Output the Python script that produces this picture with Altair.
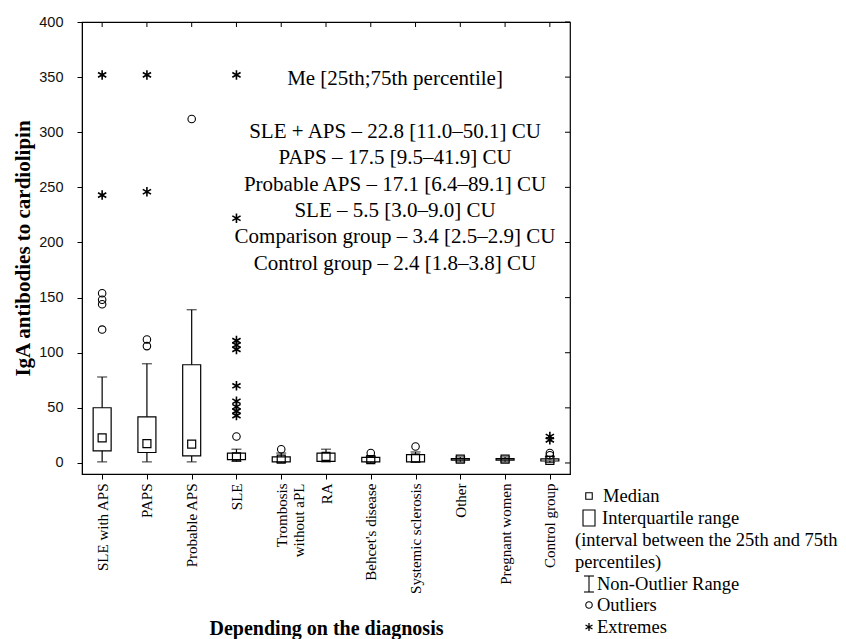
import altair as alt
import pandas as pd

categories = ["SLE with APS", "PAPS", "Probable APS", "SLE", "Trombosis without aPL", "RA",
              "Behcet's disease", "Systemic sclerosis", "Other", "Pregnant women", "Control group"]
q1 = [11.0, 9.5, 6.4, 3.0, 1.0, 1.5, 1.0, 1.0, 2.5, 2.5, 1.8]
median = [22.8, 17.5, 17.1, 5.5, 3.5, 6.0, 3.0, 4.5, 3.5, 3.5, 2.4]
q3 = [50.1, 41.9, 89.1, 9.0, 5.5, 9.0, 5.0, 7.5, 4.0, 4.0, 3.8]
whisker_lo = [1.0, 1.0, 1.0, 1.5, 0.5, 1.0, 0.5, 0.5, 1.0, 1.0, 0.5]
whisker_hi = [78.0, 90.0, 139.0, 12.5, 9.0, 12.5, 6.0, 10.0, 5.5, 5.5, 6.0]

outlier_cat = ["SLE with APS"] * 4 + ["PAPS"] * 2 + ["Probable APS", "SLE", "Trombosis without aPL",
               "Behcet's disease", "Systemic sclerosis", "Control group", "Control group"]
outlier_val = [154, 148, 144, 121, 112, 106, 312, 24, 12.5, 9, 15, 9, 7]

extreme_cat = ["SLE with APS"] * 2 + ["PAPS"] * 2 + ["SLE"] * 10 + ["Control group"] * 2
extreme_val = [352, 243, 352, 246, 352, 222, 111, 107, 103, 70, 56, 51, 47, 43, 24, 21]

y_ticks = [0, 50, 100, 150, 200, 250, 300, 350, 400]

annotation_head = "Me [25th;75th percentile]"
annotation_lines = ["SLE + APS \u2013 22.8 [11.0\u201350.1] CU",
                    "PAPS \u2013 17.5 [9.5\u201341.9] CU",
                    "Probable APS \u2013 17.1 [6.4\u201389.1] CU",
                    "SLE \u2013 5.5 [3.0\u20139.0] CU",
                    "Comparison group \u2013 3.4 [2.5\u20132.9] CU",
                    "Control group \u2013 2.4 [1.8\u20133.8] CU"]

box_df = pd.DataFrame({"cat": categories, "q1": q1, "med": median, "q3": q3,
                       "lo": whisker_lo, "hi": whisker_hi})
out_df = pd.DataFrame({"cat": outlier_cat, "v": outlier_val})
ext_df = pd.DataFrame({"cat": extreme_cat, "v": extreme_val})
tick_df = pd.DataFrame({"v": y_ticks})
one = pd.DataFrame({"a": [0]})

SERIF = "Liberation Serif"
SANS = "Liberation Sans"
ASTERISK = "M0,-1L0,1M-0.87,-0.5L0.87,0.5M-0.87,0.5L0.87,-0.5"

xscale = alt.Scale(type="point", domain=categories, padding=0.45)
yscale = alt.Scale(domain=[-10, 400], nice=False, zero=False)

x_axis = alt.Axis(
    title="Depending on the diagnosis", labelAngle=270, labelFont=SERIF, labelFontSize=15,
    labelColor="black", labelPadding=4, tickSize=5, tickColor="black", domainColor="black",
    labelLineHeight=17, grid=False,
    labelExpr="datum.label == 'Trombosis without aPL' ? ['Trombosis', 'without aPL'] : datum.label",
    titleFont=SERIF, titleFontSize=20, titleFontWeight="bold", titleColor="black",
    titleY=160, titleBaseline="alphabetic")
y_axis = alt.Axis(
    title="IgA antibodies to cardiolipin", values=y_ticks, labelFont=SANS, labelFontSize=14.5,
    labelColor="#111", labelPadding=14, tickSize=5, tickColor="black", domainColor="black",
    grid=False, titleFont=SERIF, titleFontSize=21, titleFontWeight="bold", titleColor="black",
    titleX=-53, titleY=226, titleAngle=270, titleBaseline="alphabetic", titleAlign="center")

base = alt.Chart(box_df)
X = alt.X("cat:N", scale=xscale, axis=x_axis)

whisk = base.mark_rule(color="black", strokeWidth=1.2).encode(
    x=X, y=alt.Y("lo:Q", scale=yscale, axis=y_axis), y2="hi:Q")
box = base.mark_bar(size=18, fill="white", stroke="black", strokeWidth=1.2).encode(
    x=X, y="q1:Q", y2="q3:Q")
cap_lo = base.mark_tick(size=10, thickness=1.2, color="black").encode(x=X, y="lo:Q")
cap_hi = base.mark_tick(size=10, thickness=1.2, color="black").encode(x=X, y="hi:Q")
med = base.mark_point(shape="square", size=64, filled=False, stroke="black", strokeWidth=1.2,
                      opacity=1).encode(x=X, y="med:Q")
outl = alt.Chart(out_df).mark_point(shape="circle", size=56, filled=False, stroke="black",
                                    strokeWidth=1.1, opacity=1).encode(x=X, y="v:Q")
extr = alt.Chart(ext_df).mark_point(shape=ASTERISK, size=90, filled=False, stroke="black",
                                    strokeWidth=1.6, opacity=1).encode(x=X, y="v:Q")

top_ticks = base.mark_rule(color="black", strokeWidth=1).encode(
    x=X, y=alt.value(0), y2=alt.value(5))
right_ticks = alt.Chart(tick_df).mark_rule(color="black", strokeWidth=1).encode(
    y="v:Q", x=alt.value(483), x2=alt.value(488))

annot_head = alt.Chart(one).mark_text(
    text=annotation_head, font=SERIF, fontSize=21, align="center", baseline="top",
    color="black").encode(x=alt.value(313), y=alt.value(46))
annot = alt.Chart(one).mark_text(
    text=annotation_lines, font=SERIF, fontSize=21, align="center", baseline="top",
    lineHeight=26.3, color="black").encode(x=alt.value(313), y=alt.value(99))

# custom legend (pixel positions relative to the plot origin)
def ltext(txt, x, y):
    return alt.Chart(one).mark_text(text=txt, font=SERIF, fontSize=18.5, align="left",
                                    baseline="middle", color="black").encode(
        x=alt.value(x), y=alt.value(y))

leg_med = alt.Chart(one).mark_point(shape="square", size=42, filled=False, stroke="black",
                                    strokeWidth=1.1, opacity=1).encode(
    x=alt.value(507), y=alt.value(474))
leg_box = alt.Chart(one).mark_rect(fill="white", stroke="black", strokeWidth=1.1).encode(
    x=alt.value(501), x2=alt.value(513), y=alt.value(488), y2=alt.value(504))
leg_rng = alt.Chart(one).mark_rule(color="black", strokeWidth=1.1).encode(
    x=alt.value(507), y=alt.value(554), y2=alt.value(570))
leg_rng_t = alt.Chart(one).mark_rule(color="black", strokeWidth=1.1).encode(
    x=alt.value(502), x2=alt.value(512), y=alt.value(554))
leg_rng_b = alt.Chart(one).mark_rule(color="black", strokeWidth=1.1).encode(
    x=alt.value(502), x2=alt.value(512), y=alt.value(570))
leg_out = alt.Chart(one).mark_point(shape="circle", size=42, filled=False, stroke="black",
                                    strokeWidth=1.1, opacity=1).encode(
    x=alt.value(507), y=alt.value(583))
leg_ext = alt.Chart(one).mark_point(shape=ASTERISK, size=64, filled=False, stroke="black",
                                    strokeWidth=1.3, opacity=1).encode(
    x=alt.value(507), y=alt.value(605))

legend_layers = [
    leg_med, ltext("Median", 521, 474),
    leg_box, ltext("Interquartile range", 520, 496),
    ltext("(interval between the 25th and 75th", 493, 518),
    ltext("percentiles)", 493, 540),
    leg_rng, leg_rng_t, leg_rng_b, ltext("Non-Outlier Range", 515, 562),
    leg_out, ltext("Outliers", 515, 583),
    leg_ext, ltext("Extremes", 515, 605),
]

chart = alt.layer(
    whisk, box, cap_lo, cap_hi, med, outl, extr, top_ticks, right_ticks, annot_head, annot,
    *legend_layers
).properties(
    width=488, height=452,
    autosize=alt.AutoSizeParams(type="none"),
    padding={"left": 74, "top": 14, "right": 268, "bottom": 165},
    background="white",
).configure_view(stroke="black", strokeWidth=1.2)

chart.save("out.html", embed_options={"renderer": "svg", "actions": False})
